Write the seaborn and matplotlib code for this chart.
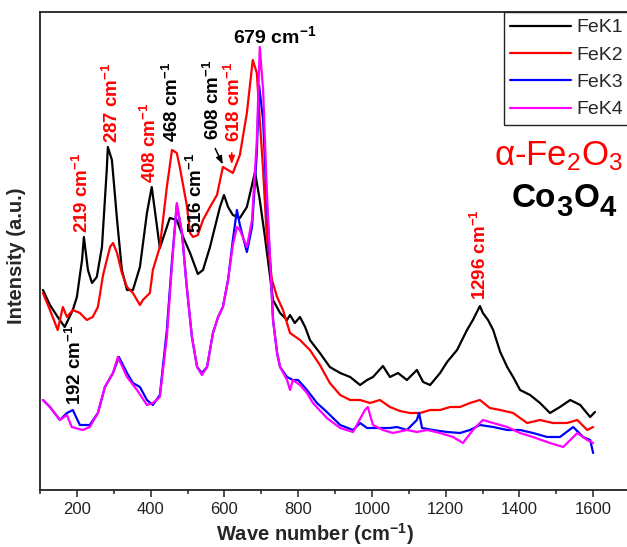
import matplotlib
matplotlib.use("Agg")
import matplotlib.pyplot as plt
import pandas as pd
import seaborn as sns

# ---------------- data ----------------
samples = ["FeK1", "FeK2", "FeK3", "FeK4"]
colors = ["#000000", "#FF0000", "#0000FF", "#FF00FF"]

wn_k1 = [108, 127, 148, 167, 189, 200, 214, 219, 230, 241, 254, 268, 281, 284, 295, 309, 322, 336, 352, 371,
         390, 403, 425, 444, 452, 471, 488, 507, 528, 542, 561, 588, 599, 610, 623, 642, 661, 675, 683, 696,
         710, 724, 732, 751, 770, 778, 791, 805, 819, 832, 859, 886, 914, 941, 968, 987, 1003, 1030, 1049, 1071,
         1095, 1122, 1139, 1158, 1185, 1204, 1231, 1258, 1274, 1293, 1301, 1315, 1329, 1348, 1367, 1383, 1402,
         1429, 1456, 1483, 1510, 1538, 1565, 1592, 1605]
int_k1 = [200, 185, 173, 163, 180, 193, 230, 253, 220, 207, 213, 243, 320, 343, 330, 270, 220, 200, 200, 223,
          277, 303, 242, 263, 272, 270, 253, 237, 216, 220, 243, 283, 295, 283, 275, 272, 283, 305, 318, 290,
          253, 213, 190, 177, 170, 175, 167, 173, 163, 150, 137, 123, 117, 113, 105, 110, 113, 124, 113, 117,
          110, 120, 108, 105, 117, 128, 140, 160, 170, 184, 177, 170, 160, 138, 123, 113, 100,
          95, 87, 77, 83, 90, 85, 73, 78]

wn_k2 = [108, 127, 148, 162, 173, 189, 208, 227, 243, 257, 271, 290, 298, 309, 322, 336, 352, 371, 379, 398,
         406, 425, 444, 458, 471, 479, 498, 507, 515, 528, 542, 561, 580, 596, 610, 623, 642, 661, 677, 688,
         696, 705, 715, 729, 743, 759, 778, 805, 832, 859, 886, 914, 941, 968, 995, 1022, 1049, 1076, 1103, 1131,
         1158, 1185, 1212, 1239, 1266, 1293, 1320, 1348, 1383, 1421, 1456, 1491, 1529, 1557, 1584, 1600]
int_k2 = [197, 180, 160, 183, 173, 180, 177, 170, 173, 183, 215, 243, 247, 237, 217, 203, 197, 185, 190, 197,
          220, 243, 303, 340, 337, 323, 285, 257, 253, 255, 270, 283, 295, 323, 320, 317, 335, 377, 430, 417,
          370, 320, 253, 210, 193, 180, 157, 150, 140, 125, 107, 95, 90, 90, 87, 90, 83, 79, 77, 77,
          80, 80, 83, 83, 87, 90, 82, 80, 77, 67, 70, 67, 67, 70, 60, 63]

wn_k3 = [108, 127, 154, 173, 189, 208, 235, 257, 276, 298, 314, 336, 352, 371, 390, 406, 425, 444, 458, 471,
         485, 498, 512, 526, 539, 553, 569, 583, 596, 610, 623, 634, 642, 661, 675, 688, 694, 705, 715, 724,
         732, 743, 751, 770, 786, 800, 824, 851, 878, 914, 949, 968, 987, 1022, 1049, 1068, 1095, 1122, 1128, 1136,
         1166, 1204, 1239, 1266, 1293, 1329, 1367, 1402, 1437, 1475, 1510, 1546, 1573, 1592, 1600]
int_k3 = [90, 83, 70, 77, 80, 65, 65, 77, 103, 117, 133, 117, 107, 103, 90, 85, 95, 160, 230, 285,
          257, 203, 153, 123, 117, 123, 157, 173, 183, 210, 250, 280, 265, 238, 263, 337, 405, 370, 287, 230,
          170, 137, 123, 113, 110, 110, 100, 87, 78, 65, 60, 67, 62, 62, 62, 63, 60, 70, 77, 62,
          60, 58, 57, 60, 65, 63, 60, 60, 57, 53, 53, 63, 53, 50, 37]

wn_k4 = [108, 127, 154, 173, 186, 216, 235, 257, 276, 298, 311, 336, 363, 390, 406, 425, 444, 458, 471, 485,
         498, 512, 526, 539, 553, 569, 583, 596, 610, 623, 634, 642, 661, 675, 688, 696, 705, 715, 724, 732,
         743, 751, 770, 778, 786, 805, 824, 840, 878, 914, 949, 981, 989, 1003, 1030, 1057, 1095, 1122, 1150, 1185,
         1220, 1247, 1274, 1301, 1329, 1367, 1402, 1437, 1483, 1519, 1557, 1584, 1600]
int_k4 = [90, 83, 70, 75, 63, 60, 63, 77, 103, 117, 133, 113, 100, 85, 87, 93, 153, 225, 287, 257,
          203, 153, 123, 115, 123, 157, 173, 183, 210, 245, 263, 260, 243, 270, 350, 443, 400, 300, 230, 170,
          137, 123, 110, 100, 110, 105, 97, 87, 72, 62, 58, 80, 83, 65, 60, 57, 60, 58, 60, 57,
          53, 47, 60, 70, 67, 63, 57, 53, 47, 43, 57, 50, 47]

# peak labels: (text, wavenumber, intensity of label foot, colour)
peak_labels = ["219", "287", "408", "468", "516", "608", "618", "192", "1296"]
peak_x = [215, 295, 398, 458, 523, 569, 627, 195, 1293]
peak_y = [257, 347, 307, 348, 257, 350, 348, 85, 190]
peak_colors = ["#FF0000", "#FF0000", "#FF0000", "#000000", "#000000", "#000000", "#FF0000", "#000000", "#FF0000"]

xticks = [200, 400, 600, 800, 1000, 1200, 1400, 1600]

# ---------------- styling ----------------
sns.set_theme(style="ticks")
plt.rcParams["font.family"] = ["Liberation Sans", "DejaVu Sans"]
plt.rcParams["mathtext.fontset"] = "custom"
plt.rcParams["mathtext.rm"] = "Liberation Sans"
plt.rcParams["mathtext.it"] = "Liberation Sans:italic"
plt.rcParams["mathtext.bf"] = "Liberation Sans:bold"

fig = plt.figure(figsize=(6.27, 5.47), dpi=100)
ax = fig.add_axes([40 / 627, 57 / 547, 590 / 627, 478 / 547])

series = [(wn_k1, int_k1), (wn_k2, int_k2), (wn_k3, int_k3), (wn_k4, int_k4)]
for name, col, (xs, ys) in zip(samples, colors, series):
    df = pd.DataFrame({"wn": xs, "I": ys})
    sns.lineplot(data=df, x="wn", y="I", color=col, linewidth=1.6, label=name,
                 estimator=None, sort=False, ax=ax)

ax.set_xlim(100, 1700)
ax.set_ylim(0, 478)
ax.set_xticks(xticks)
ax.set_xticks(range(100, 1701, 100), minor=True)
ax.set_yticks([])
ax.tick_params(axis="x", which="major", direction="out", length=5, width=1.1,
               labelsize=12, colors="#222222")
ax.tick_params(axis="x", which="minor", direction="out", length=3, width=1.1, colors="#222222")
for sp in ax.spines.values():
    sp.set_linewidth(1.3)
    sp.set_color("#222222")

ax.set_xlabel("Wave number (cm$^{\\mathbf{-1}}$)", fontsize=14.5, fontweight="bold")
ax.xaxis.set_label_coords(0.466, -0.066)
ax.set_ylabel("Intensity (a.u.)", fontsize=14.5, fontweight="bold")
ax.yaxis.set_label_coords(-0.024, 0.49)

# peak labels
for lab, px, py, c in zip(peak_labels, peak_x, peak_y, peak_colors):
    ax.text(px, py, lab + " cm$^{\\mathbf{-1}}$", rotation=90, ha="center", va="bottom",
            color=c, fontsize=13.5, fontweight="bold")
ax.text(623, 447, "679 cm$^{\\mathbf{-1}}$", ha="left", va="baseline", color="black",
        fontsize=14, fontweight="bold")

ax.annotate("", xy=(599, 323), xytext=(572, 344),
            arrowprops=dict(arrowstyle="-|>,head_length=0.4,head_width=0.15", color="black", lw=1.1))
ax.annotate("", xy=(620, 323), xytext=(620, 340),
            arrowprops=dict(arrowstyle="-|>,head_length=0.4,head_width=0.15", color="#FF0000", lw=1.1))

ax.text(1330, 325, "α-Fe$_2$O$_3$", color="#FF0000", fontsize=25, ha="left", va="baseline")

# Co3O4 with near full-size, lowered digits
t_co = ax.text(1378, 283, "Co", color="black", fontsize=24, fontweight="bold", ha="left", va="baseline")
t_3 = ax.annotate("3", xy=(1.0, 0.0), xycoords=t_co, xytext=(0.5, -1.5), textcoords="offset points",
                  color="black", fontsize=21, fontweight="bold", ha="left", va="baseline")
t_o = ax.annotate("O", xy=(1.0, 0.0), xycoords=(t_3, t_co), xytext=(0.5, 0), textcoords="offset points",
                  color="black", fontsize=24, fontweight="bold", ha="left", va="bottom")
ax.annotate("4", xy=(1.0, 0.0), xycoords=(t_o, t_co), xytext=(0.5, -1.5), textcoords="offset points",
            color="black", fontsize=21, fontweight="bold", ha="left", va="baseline")

leg = ax.legend(loc="upper right", bbox_to_anchor=(1.0, 1.0), borderaxespad=0.0,
                fontsize=14, handlelength=3.1, handletextpad=0.3, labelspacing=0.5,
                borderpad=0.35, fancybox=False, framealpha=1.0, edgecolor="#222222")
leg.get_frame().set_linewidth(1.0)
for h in leg.get_lines():
    h.set_linewidth(1.6)

fig.savefig("out.png", dpi=100)
